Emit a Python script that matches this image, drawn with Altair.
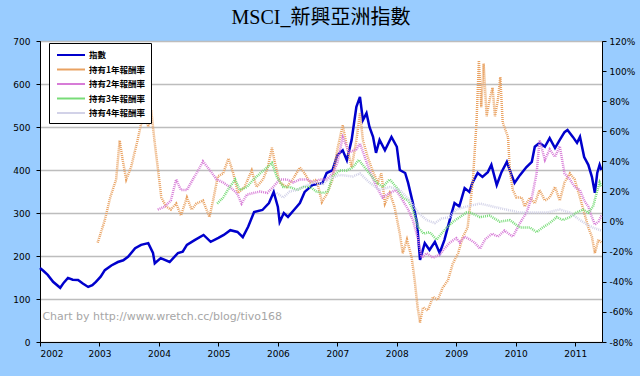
import altair as alt
import pandas as pd

# ---- data ----
idx_t = [2002.00, 2002.06, 2002.13, 2002.22, 2002.34, 2002.40, 2002.47, 2002.55, 2002.64, 2002.72,
         2002.81, 2002.88, 2002.94, 2003.02, 2003.09, 2003.20, 2003.31, 2003.40, 2003.48, 2003.60,
         2003.70, 2003.82, 2003.90, 2003.93, 2004.03, 2004.18, 2004.32, 2004.40, 2004.47, 2004.60,
         2004.75, 2004.87, 2005.00, 2005.09, 2005.20, 2005.32, 2005.41, 2005.50, 2005.60, 2005.74,
         2005.85, 2005.93, 2006.00, 2006.03, 2006.10, 2006.17, 2006.27, 2006.37, 2006.45, 2006.58,
         2006.75, 2006.82, 2006.92, 2007.00, 2007.09, 2007.16, 2007.24, 2007.32, 2007.38, 2007.43,
         2007.49, 2007.54, 2007.60, 2007.65, 2007.71, 2007.80, 2007.91, 2008.00, 2008.05, 2008.14,
         2008.19, 2008.27, 2008.34, 2008.39, 2008.47, 2008.55, 2008.64, 2008.72, 2008.80, 2008.89,
         2008.97, 2009.05, 2009.14, 2009.22, 2009.27, 2009.36, 2009.44, 2009.53, 2009.59, 2009.68,
         2009.76, 2009.85, 2009.93, 2009.98, 2010.07, 2010.18, 2010.27, 2010.32, 2010.40, 2010.49,
         2010.57, 2010.66, 2010.74, 2010.82, 2010.87, 2010.96, 2011.03, 2011.08, 2011.15, 2011.22,
         2011.28, 2011.33, 2011.37, 2011.41, 2011.44]
idx_v = [172, 165, 156, 140, 126, 138, 149, 145, 144, 136,
         128, 132, 140, 152, 167, 178, 186, 190, 198, 218,
         226, 230, 207, 183, 195, 186, 207, 210, 226, 237,
         249, 233, 242, 249, 260, 256, 244, 268, 302, 307,
         323, 349, 314, 279, 300, 291, 307, 323, 349, 365,
         370, 393, 400, 435, 446, 423, 470, 547, 570, 516,
         532, 500, 477, 440, 470, 446, 477, 454, 400, 393,
         370, 323, 277, 191, 230, 214, 233, 207, 237, 284,
         323, 315, 358, 349, 370, 393, 384, 395, 412, 365,
         395, 419, 388, 370, 388, 407, 419, 454, 463, 454,
         474, 451, 470, 488, 493, 477, 463, 477, 430, 412,
         384, 347, 393, 412, 400]

r1_t = [2002.97, 2003.09, 2003.18, 2003.28, 2003.34, 2003.39, 2003.45, 2003.53, 2003.64, 2003.70,
        2003.76, 2003.82, 2003.87, 2003.93, 2003.98, 2004.04, 2004.12, 2004.20, 2004.29, 2004.37,
        2004.47, 2004.55, 2004.63, 2004.74, 2004.85, 2004.91, 2004.99, 2005.08, 2005.17, 2005.25,
        2005.33, 2005.44, 2005.56, 2005.64, 2005.75, 2005.83, 2005.90, 2005.95, 2006.03, 2006.15,
        2006.25, 2006.37, 2006.45, 2006.54, 2006.65, 2006.74, 2006.82, 2006.92, 2007.00, 2007.09,
        2007.16, 2007.24, 2007.32, 2007.38, 2007.43, 2007.51, 2007.60, 2007.68, 2007.74, 2007.80,
        2007.88, 2007.96, 2008.05, 2008.10, 2008.17, 2008.25, 2008.30, 2008.35, 2008.39, 2008.44,
        2008.52, 2008.61, 2008.69, 2008.77, 2008.86, 2008.94, 2009.03, 2009.11, 2009.19, 2009.23,
        2009.28, 2009.34, 2009.38, 2009.42, 2009.46, 2009.51, 2009.56, 2009.61, 2009.65, 2009.70,
        2009.74, 2009.78, 2009.87, 2009.90, 2009.95, 2010.01, 2010.10, 2010.15, 2010.24, 2010.32,
        2010.40, 2010.49, 2010.57, 2010.66, 2010.74, 2010.82, 2010.91, 2010.99, 2011.08, 2011.15,
        2011.22, 2011.28, 2011.33, 2011.39, 2011.44]
r1_v = [-14, 1, 16, 28, 54, 41, 28, 36, 54, 65,
        72, 63, 74, 52, 36, 16, 10, 8, 12, 4,
        16, 8, 12, 14, 3, 14, 30, 32, 42, 32,
        19, 23, 34, 23, 28, 36, 49, 39, 26, 23,
        28, 36, 32, 26, 28, 13, 18, 28, 48, 64,
        50, 36, 54, 72, 54, 43, 33, 26, 32, 12,
        19, 10, -8, -21, -12, -24, -39, -57, -67, -57,
        -59, -50, -52, -44, -39, -28, -21, -10, -4, 10,
        28, 66, 107, 76, 105, 70, 81, 89, 70, 81,
        96, 66, 56, 34, 21, 16, 16, 10, 16, 12,
        21, 14, 16, 23, 14, 26, 32, 28, 16, 6,
        -4, -10, -21, -12, -14]

r2_t = [2003.98, 2004.10, 2004.20, 2004.29, 2004.37, 2004.47, 2004.57, 2004.66, 2004.74, 2004.86,
        2004.97, 2005.08, 2005.19, 2005.31, 2005.39, 2005.48, 2005.59, 2005.70, 2005.82, 2005.92,
        2006.03, 2006.15, 2006.26, 2006.37, 2006.48, 2006.60, 2006.71, 2006.82, 2006.92, 2007.00,
        2007.09, 2007.20, 2007.32, 2007.38, 2007.46, 2007.54, 2007.66, 2007.76, 2007.88, 2007.99,
        2008.10, 2008.19, 2008.27, 2008.36, 2008.42, 2008.50, 2008.61, 2008.72, 2008.80, 2008.89,
        2009.00, 2009.06, 2009.14, 2009.23, 2009.31, 2009.40, 2009.48, 2009.60, 2009.70, 2009.81,
        2009.95, 2010.07, 2010.18, 2010.27, 2010.35, 2010.40, 2010.49, 2010.57, 2010.66, 2010.74,
        2010.82, 2010.91, 2010.99, 2011.08, 2011.15, 2011.22, 2011.28, 2011.33, 2011.39, 2011.44]
r2_v = [8, 10, 14, 28, 21, 21, 28, 34, 40, 34,
        28, 26, 23, 19, 12, 18, 19, 20, 19, 23,
        28, 28, 26, 28, 28, 26, 28, 28, 32, 39,
        56, 46, 48, 52, 43, 34, 23, 16, 19, 21,
        14, 8, 1, -12, -24, -21, -24, -22, -18, -14,
        -11, -14, -10, -12, -14, -18, -12, -8, -10, -6,
        -10, -1, 6, 16, 32, 54, 41, 48, 43, 50,
        32, 28, 23, 21, 14, 10, 3, -2, 0, 4]

r3_t = [2004.98, 2005.08, 2005.19, 2005.28, 2005.36, 2005.48, 2005.59, 2005.70, 2005.82, 2005.90,
        2005.98, 2006.09, 2006.20, 2006.32, 2006.43, 2006.54, 2006.65, 2006.76, 2006.84, 2006.92,
        2007.04, 2007.16, 2007.26, 2007.36, 2007.46, 2007.54, 2007.66, 2007.76, 2007.88, 2007.99,
        2008.10, 2008.19, 2008.27, 2008.36, 2008.45, 2008.55, 2008.67, 2008.75, 2008.84, 2008.95,
        2009.06, 2009.17, 2009.23, 2009.40, 2009.56, 2009.73, 2009.90, 2010.07, 2010.24, 2010.35,
        2010.45, 2010.57, 2010.69, 2010.79, 2010.91, 2011.02, 2011.13, 2011.22, 2011.30, 2011.36,
        2011.41, 2011.44]
r3_v = [12, 16, 23, 28, 21, 23, 28, 32, 36, 39,
        30, 23, 23, 21, 23, 23, 20, 19, 20, 30,
        34, 34, 36, 41, 36, 32, 26, 23, 28, 23,
        16, 14, 8, -4, -8, -7, -12, -8, -4, 0,
        3, 6, 6, 3, 4, 0, 1, -4, -4, -7,
        -4, -1, 3, 1, 3, 6, 8, 6, 10, 19,
        26, 23]

r4_t = [2005.98, 2006.09, 2006.20, 2006.32, 2006.43, 2006.60, 2006.76, 2006.84, 2007.04, 2007.26,
        2007.38, 2007.54, 2007.71, 2007.88, 2008.05, 2008.22, 2008.36, 2008.50, 2008.64, 2008.75,
        2008.89, 2009.00, 2009.17, 2009.40, 2009.61, 2009.84, 2010.07, 2010.29, 2010.52, 2010.74,
        2010.91, 2011.08, 2011.20, 2011.30, 2011.44]
r4_v = [19, 16, 20, 21, 23, 26, 25, 28, 31, 30,
        32, 26, 21, 23, 21, 14, 6, 1, -1, 2,
        3, 8, 10, 12, 10, 8, 6, 6, 6, 8,
        6, 1, -2, -4, -6]

names = ["指數", "持有1年報酬率", "持有2年報酬率", "持有3年報酬率", "持有4年報酬率"]
colors = ["#0000CC", "#E9A262", "#D77CD7", "#78DC78", "#D2D2E8"]
years = list(range(2002, 2012))
left_ticks = [0, 100, 200, 300, 400, 500, 600, 700]
right_ticks = [-0.8, -0.6, -0.4, -0.2, 0.0, 0.2, 0.4, 0.6, 0.8, 1.0, 1.2]
watermark = "Chart by http://www.wretch.cc/blog/tivo168"

# ---- tables ----
idx_df = pd.DataFrame({"t": idx_t, "v": idx_v, "s": names[0]})
rows = []
for name, ts, vs in [(names[1], r1_t, r1_v), (names[2], r2_t, r2_v),
                     (names[3], r3_t, r3_v), (names[4], r4_t, r4_v)]:
    for t, v in zip(ts, vs):
        rows.append({"t": t, "v": v / 100.0, "s": name})
ret_df = pd.DataFrame(rows)
wm_df = pd.DataFrame({"t": [2002.04], "v": [57], "txt": [watermark]})

AX_FONT = "DejaVu Sans"

x_enc = alt.X("t:Q", scale=alt.Scale(domain=[2002, 2011.45], nice=False, zero=False),
              axis=alt.Axis(values=years, format="d", title=None, grid=False, tickSize=4,
                            labelPadding=3, labelFontSize=9, labelFont=AX_FONT,
                            labelColor="#000000", domainColor="#000000", tickColor="#000000"))

color_enc = alt.Color("s:N", scale=alt.Scale(domain=names, range=colors),
                      sort=names,
                      legend=alt.Legend(orient="none", legendX=9, legendY=2, title=None,
                                        strokeColor="#000000", fillColor="#FFFFFF",
                                        padding=5, symbolType="M-2.33,0H2.33", symbolSize=144,
                                        symbolStrokeWidth=2, symbolOffset=10,
                                        labelFontSize=8.5,
                                        labelFont="Noto Sans CJK TC", labelFontWeight="bold",
                                        labelColor="#000000", rowPadding=2.5, labelOffset=11))

y_left_scale = alt.Scale(domain=[0, 700], nice=False, zero=False)

idx_line = alt.Chart(idx_df).mark_line(strokeWidth=2.5).encode(
    x=x_enc,
    y=alt.Y("v:Q", scale=y_left_scale,
            axis=alt.Axis(orient="left", values=left_ticks, title=None, grid=True,
                          gridColor="#BDBDBD", gridWidth=1.5, tickSize=4, labelPadding=6,
                          labelFontSize=9, labelFont=AX_FONT, labelColor="#000000",
                          domainColor="#000000", tickColor="#000000")),
    color=color_enc,
)

wm = alt.Chart(wm_df).mark_text(align="left", baseline="middle", fontSize=11,
                                font=AX_FONT, color="#A6A6A6").encode(
    x=alt.X("t:Q"), y=alt.Y("v:Q", scale=y_left_scale), text="txt:N")

left_layer = alt.layer(idx_line, wm)

ret_lines = alt.Chart(ret_df).mark_line(strokeWidth=2.5, strokeDash=[1, 1]).encode(
    x=x_enc,
    y=alt.Y("v:Q", scale=alt.Scale(domain=[-0.8, 1.2], nice=False, zero=False),
            axis=alt.Axis(orient="right", values=right_ticks, title=None, grid=False,
                          tickSize=4, labelPadding=3, labelFontSize=9, labelFont=AX_FONT,
                          labelColor="#000000", domainColor="#000000", tickColor="#000000",
                          labelExpr="round(datum.value * 100) + '%'")),
    color=color_enc,
)

chart = alt.layer(left_layer, ret_lines).resolve_scale(y="independent").properties(
    width=562, height=301,
    title=alt.Title("MSCI_新興亞洲指數", fontSize=20, font="Liberation Serif, Noto Sans CJK TC",
                    fontWeight="normal", color="#000000", anchor="middle", offset=9),
    autosize=alt.AutoSizeParams(type="none"),
    padding={"left": 40, "top": 41, "right": 38, "bottom": 34},
    background="#99CCFF",
).configure_view(fill="#FFFFFF", stroke="#333333", strokeWidth=1)

chart.save("out.html", embed_options={"renderer": "svg", "actions": False})
